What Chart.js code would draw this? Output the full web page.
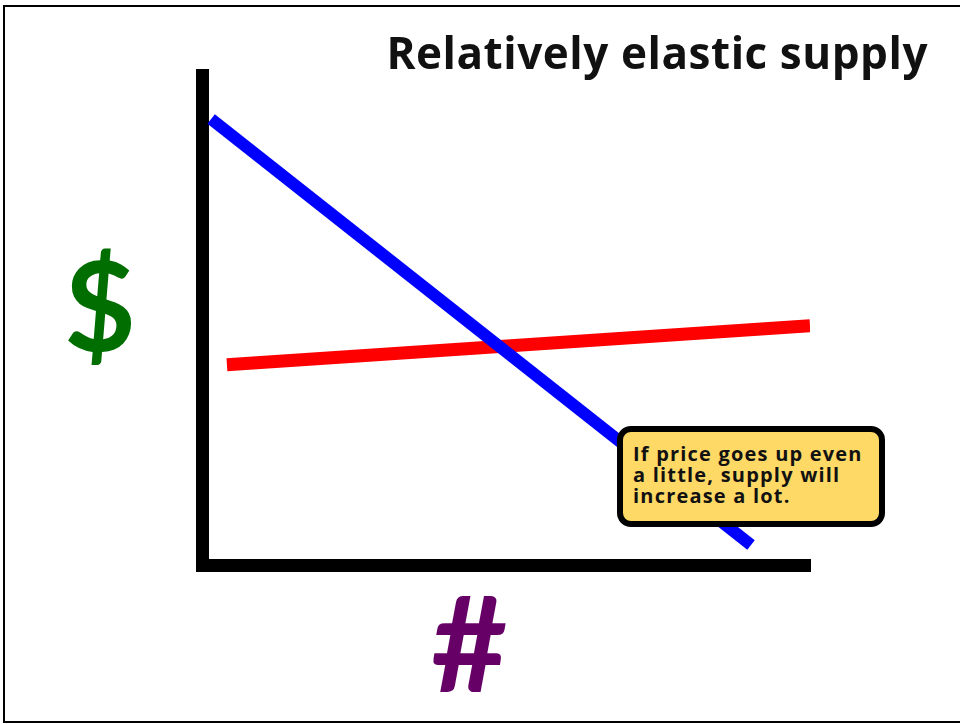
<!DOCTYPE html>
<html>
<head>
<meta charset="utf-8">
<script src="https://cdn.jsdelivr.net/npm/chart.js@4"></script>
<style>
  html, body { margin: 0; padding: 0; background: #fff; overflow: hidden; }
  body { width: 960px; height: 724px; position: relative; font-family: "Open Sans", Lato, sans-serif; }
  #frame { position: absolute; left: 3px; top: 5px; width: 1000px; height: 714px; border: 2px solid #000; }
  #chart { position: absolute; left: 0; top: 0; }
  .lbl { position: absolute; font-weight: bold; line-height: 1; white-space: nowrap; }
  #title { right: 32px; top: 30px; font-size: 44px; letter-spacing: 0.55px; color: #111; }
  #dollar { left: 64px; top: 241px; font-size: 124px; color: #006e00; font-family: Lato, sans-serif; }
  #hash { left: 431px; top: 575px; font-size: 132px; color: #660066; font-family: Lato, sans-serif; }
  #note {
    position: absolute; left: 617px; top: 426px; width: 256px; height: 89px;
    border: 6px solid #000; border-radius: 14px; background: #ffd966;
  }
  #note div { position: absolute; left: 10px; top: 11px; font-size: 20px; line-height: 21px; letter-spacing: 1.2px; font-weight: bold; color: #111; }
</style>
</head>
<body>
<div id="frame"></div>
<canvas id="chart" width="960" height="724"></canvas>
<div class="lbl" id="title">Relatively elastic supply</div>
<div class="lbl" id="dollar">$</div>
<div class="lbl" id="hash">#</div>
<div id="note"><div>If price goes up even<br>a little, supply will<br>increase a lot.</div></div>
<script>
(function() {
  "use strict";

  // ── Data (quantity 0-10 on x, price 0-10 on y) ──
  const demandX = [0.15, 9.03];
  const demandY = [9.11, 0.41];
  const supplyX = [0.41, 10];
  const supplyY = [4.09, 4.89];

  const toPoints = (xs, ys) => xs.map((x, i) => ({ x, y: ys[i] }));

  const axis = {
    type: 'linear', min: 0, max: 10,
    ticks: { display: false },
    grid: { display: false, drawTicks: false },
    border: { display: true, color: '#000', width: 13 },
  };

  new Chart(document.getElementById('chart'), {
    type: 'scatter',
    data: {
      datasets: [
        { label: 'Demand', data: toPoints(demandX, demandY), showLine: true,
          borderColor: '#0000ff', borderWidth: 12, pointRadius: 0, borderCapStyle: 'butt' },
        { label: 'Supply', data: toPoints(supplyX, supplyY), showLine: true,
          borderColor: '#ff0000', borderWidth: 13, pointRadius: 0, borderCapStyle: 'butt' },
      ]
    },
    options: {
      responsive: false,
      animation: false,
      layout: { padding: { left: 202, right: 150, top: 75.5, bottom: 159 } },
      plugins: { legend: { display: false }, tooltip: { enabled: false } },
      scales: { x: axis, y: { ...axis } },
    }
  });
})();
</script>
</body>
</html>
